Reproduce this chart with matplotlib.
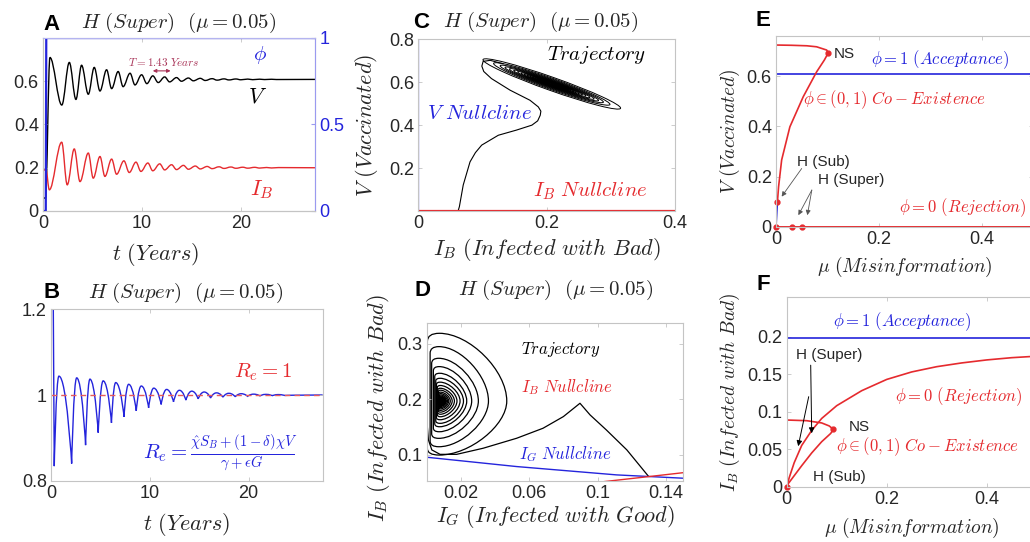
import matplotlib
matplotlib.use("Agg")
import matplotlib.pyplot as plt
from matplotlib.path import Path
from matplotlib.patches import PathPatch, Ellipse
from matplotlib.transforms import Affine2D

plt.rcParams['font.family'] = ['Liberation Sans', 'DejaVu Sans']
plt.rcParams['mathtext.fontset'] = 'cm'

RED = '#e52a2e'
BLUE = '#2424dc'
GREY = '#c4c4c4'
TXT = '#262626'

# ---------------- data ----------------
# A: time series (extrema of the damped oscillation)
A_v_t = [0.0, 0.25, 0.7, 1.9, 2.66, 3.33, 3.9, 4.58, 5.18, 5.76, 6.43, 6.94, 7.6, 8.1, 8.8, 9.3,
         9.97, 10.5, 11.1, 11.65, 12.3, 12.8, 13.5, 14.0, 14.7, 15.2, 15.9, 16.4, 17.1, 17.6,
         18.3, 18.8, 19.5, 20.0, 20.7, 21.2, 21.9, 22.4, 23.1, 23.6, 27.5]
A_v = [0.06, 0.06, 0.71, 0.49, 0.687, 0.516, 0.674, 0.54, 0.664, 0.555, 0.653, 0.566, 0.645, 0.575,
       0.637, 0.583, 0.630, 0.589, 0.625, 0.594, 0.620, 0.597, 0.617, 0.600, 0.615, 0.602, 0.6135,
       0.6035, 0.612, 0.605, 0.611, 0.606, 0.6105, 0.6068, 0.610, 0.6073, 0.6095, 0.6078, 0.6092,
       0.608, 0.6085]
A_ib_t = [0.0, 0.3, 0.64, 1.89, 2.45, 3.16, 3.74, 4.58, 5.08, 5.76, 6.26, 6.94, 7.44, 8.18, 8.72,
          9.4, 9.9, 10.6, 11.1, 11.8, 12.3, 13.0, 13.5, 14.2, 14.7, 15.4, 15.9, 16.6, 17.1, 17.8,
          18.3, 19.0, 19.5, 20.2, 20.7, 21.4, 21.9, 22.6, 23.1, 23.8, 27.5]
A_ib = [0.19, 0.19, 0.098, 0.318, 0.121, 0.287, 0.136, 0.268, 0.152, 0.252, 0.16, 0.24, 0.17, 0.232,
        0.178, 0.226, 0.183, 0.222, 0.186, 0.218, 0.19, 0.214, 0.1915, 0.211, 0.193, 0.208, 0.1945,
        0.206, 0.1958, 0.2045, 0.1968, 0.2035, 0.1975, 0.2025, 0.198, 0.202, 0.1985, 0.2012, 0.199,
        0.2008, 0.2]
A_phi_t = [0.0, 0.28, 0.33, 27.5]
A_phi = [0.0, 0.0, 1.0, 1.0]

# B: effective reproduction number (first value is the off-scale spike)
B_t = [0.22, 0.33, 0.8, 2.09, 2.6, 3.5, 3.94, 4.78, 5.28, 6.12, 6.55, 7.39, 7.86, 8.63, 9.14, 9.88,
       10.4, 11.15, 11.7, 12.4, 13.0, 13.65, 14.25, 14.9, 15.5, 16.15, 16.75, 17.4, 18.0, 18.65,
       19.25, 19.9, 20.5, 21.15, 21.75, 22.4, 23.0, 23.65, 27.5]
B_re = [1.25, 0.834, 1.044, 0.84, 1.04, 0.883, 1.037, 0.912, 1.033, 0.935, 1.029, 0.949, 1.025,
        0.963, 1.021, 0.97, 1.016, 0.978, 1.013, 0.984, 1.011, 0.988, 1.009, 0.991, 1.007, 0.993,
        1.005, 0.995, 1.004, 0.996, 1.003, 0.997, 1.002, 0.998, 1.0015, 0.9985, 1.001, 0.999, 1.0]

# C: phase plane (I_B, V)
C_ib = [0.062, 0.064, 0.070, 0.0806, 0.089, 0.0988, 0.1247, 0.153, 0.177, 0.186, 0.19, 0.191,
        0.187, 0.174, 0.143, 0.114, 0.102, 0.099, 0.101, 0.112, 0.132]
C_v = [0.0, 0.02, 0.121, 0.229, 0.272, 0.307, 0.353, 0.377, 0.40, 0.42, 0.446, 0.465, 0.485,
       0.516, 0.563, 0.617, 0.650, 0.675, 0.697, 0.702, 0.686]
C_focus = (0.208, 0.592)
C_loop_len = [0.680, 0.575, 0.510, 0.462, 0.418, 0.376, 0.338, 0.303, 0.272, 0.243, 0.217, 0.192,
              0.171, 0.149, 0.130, 0.112, 0.093, 0.078, 0.065]
C_loop_wid = [0.062, 0.052, 0.044, 0.038, 0.033, 0.029, 0.025, 0.022, 0.019, 0.017, 0.015, 0.013,
              0.011, 0.010, 0.009, 0.008, 0.007, 0.006, 0.005]

# D: phase plane (I_G, I_B)
D_ig = [0.1295, 0.117, 0.105, 0.0955, 0.0896, 0.0799, 0.068, 0.0526, 0.033, 0.0175, 0.0078,
        0.003, 0.001, 0.0004]
D_ib = [0.062, 0.109, 0.145, 0.172, 0.193, 0.169, 0.148, 0.130, 0.112, 0.101, 0.101, 0.109,
        0.127, 0.15]
D_focus = (0.0082, 0.197)
D_left = [0.0004, 0.0020, 0.0029, 0.0039, 0.0047, 0.0053, 0.0057, 0.0062, 0.0065, 0.0068, 0.0070,
          0.0072, 0.0074, 0.0075, 0.0076, 0.0077]
D_right = [0.0468, 0.0361, 0.0302, 0.0263, 0.0234, 0.0215, 0.0195, 0.0177, 0.0162, 0.0149,
           0.0138, 0.0129, 0.0122, 0.0115, 0.0110, 0.0105]
D_top = [0.319, 0.295, 0.274, 0.259, 0.247, 0.238, 0.231, 0.225, 0.220, 0.2165, 0.213, 0.2104,
         0.208, 0.2062, 0.2047, 0.2033]
D_bot = [0.0997, 0.1147, 0.1298, 0.1417, 0.1507, 0.1568, 0.1633, 0.1687, 0.1732, 0.177, 0.1802,
         0.1829, 0.1851, 0.1871, 0.1887, 0.190]
D_ncg_ig = [0.0, 0.0526, 0.111, 0.15]
D_ncg_ib = [0.0958, 0.079, 0.064, 0.058]
D_ncb_ig = [0.104, 0.130, 0.15]
D_ncb_ib = [0.052, 0.061, 0.068]

# E: bifurcation diagram in V
E_acc_mu = [0.0, 0.5]
E_acc_v = [0.61, 0.61]
E_rej_mu = [0.0, 0.5]
E_rej_v = [0.0, 0.0]
E_coex_mu = [0.0, 0.03, 0.06, 0.079, 0.0986, 0.1018, 0.094, 0.079, 0.053, 0.027, 0.011, 0.005, 0.0027]
E_coex_v = [0.724, 0.723, 0.721, 0.717, 0.704, 0.693, 0.664, 0.617, 0.518, 0.398, 0.266, 0.159, 0.097]
E_low_mu = [0.0027, 0.0]
E_low_v = [0.097, 0.0]
E_pts_mu = [0.1018, 0.0027, 0.032, 0.051, 0.0]
E_pts_v = [0.693, 0.097, 0.0, 0.0, 0.0]

# F: bifurcation diagram in I_B
F_acc_mu = [0.0, 0.5]
F_acc_ib = [0.198, 0.198]
F_rej_mu = [0.0, 0.005, 0.015, 0.03, 0.05, 0.07, 0.1, 0.15, 0.2, 0.25, 0.3, 0.35, 0.4, 0.45, 0.5]
F_rej_ib = [0.0, 0.012, 0.032, 0.055, 0.075, 0.091, 0.108, 0.128, 0.143, 0.153, 0.160, 0.165,
            0.169, 0.172, 0.174]
F_coex_mu = [0.0, 0.04, 0.07, 0.085, 0.0933, 0.088, 0.07, 0.05, 0.03, 0.012, 0.003, 0.0]
F_coex_ib = [0.0889, 0.088, 0.085, 0.081, 0.0765, 0.071, 0.06, 0.045, 0.028, 0.012, 0.004, 0.0]
F_pts_mu = [0.0933, 0.0]
F_pts_ib = [0.0765, 0.0]


# ---------------- helpers ----------------
def fpos(l, r, t, b):
    return [l / 1030, 1 - b / 542, (r - l) / 1030, (b - t) / 542]


def style(ax, xt, xl, yt, yl, fs=13):
    ax.set_xticks(xt, xl)
    ax.set_yticks(yt, yl)
    ax.tick_params(direction='in', length=3, width=0.6, top=True, right=True,
                   labelsize=fs, colors=GREY, labelcolor=TXT, pad=3)
    for s in ax.spines.values():
        s.set_color(GREY)
        s.set_linewidth(0.8)


def smooth_path(xs, ys, a):
    # bezier through the extrema, horizontal tangents; a = handle length at each point
    verts = [(xs[0], ys[0])]
    codes = [Path.MOVETO]
    for i in range(len(xs) - 1):
        dx = xs[i + 1] - xs[i]
        verts += [(xs[i] + a[i] * dx, ys[i]), (xs[i + 1] - a[i + 1] * dx, ys[i + 1]),
                  (xs[i + 1], ys[i + 1])]
        codes += [Path.CURVE4] * 3
    return Path(verts, codes)


def loop_path(L, R, T, B, yc, k=0.45):
    c = 0.15 * (R - L)
    rt = 0.12 * (T - yc)
    rb = 0.12 * (yc - B)
    m = L + c + k * (R - L - c)
    verts = [(L, B + rb), (L, T - rt), (L, T), (L + c, T),
             (m, T), (R, yc + k * (T - yc)), (R, yc),
             (R, yc - k * (yc - B)), (m, B), (L + c, B),
             (L, B), (L, B + rb), (L, B + rb)]
    codes = [Path.MOVETO, Path.LINETO, Path.CURVE3, Path.CURVE3,
             Path.CURVE4, Path.CURVE4, Path.CURVE4, Path.CURVE4, Path.CURVE4, Path.CURVE4,
             Path.CURVE3, Path.CURVE3, Path.CLOSEPOLY]
    return Path(verts, codes)


def xlab(ax, s, x, y, fs):
    ax.set_xlabel(s, fontsize=fs, color=TXT)
    ax.xaxis.set_label_coords(x, y)
    ax.xaxis.label.set_va('center')


def ylab(ax, s, x, y, fs):
    ax.set_ylabel(s, fontsize=fs, color=TXT)
    ax.yaxis.set_label_coords(x, y)
    ax.yaxis.label.set_va('center')


fig = plt.figure(figsize=(10.3, 5.42), dpi=100)

TITLE = r'$H\ (Super)\ \ (\mu = 0.05)$'
TFS = 15


def letter(s, x, y):
    fig.text(x / 1030, 1 - y / 542, s, fontsize=16, fontweight='bold', ha='center', va='center')


def title(x, y):
    fig.text(x / 1030, 1 - y / 542, TITLE, fontsize=TFS, ha='center', va='center', color=TXT)


# ---------------- A ----------------
axA = fig.add_axes(fpos(43, 315, 38, 211))
axA.add_patch(PathPatch(smooth_path(A_v_t, A_v, [0.36] * len(A_v)), fill=False,
                        ec='black', lw=1.0))
axA.add_patch(PathPatch(smooth_path(A_ib_t, A_ib, [0.36] * len(A_ib)), fill=False,
                        ec=RED, lw=1.0))
axA.set_xlim(0, 27.5)
axA.set_ylim(0, 0.8)
style(axA, [0, 10, 20], ['0', '10', '20'], [0, 0.2, 0.4, 0.6], ['0', '0.2', '0.4', '0.6'])
axA.tick_params(right=False)
axA2 = axA.twinx()
axA2.plot(A_phi_t, A_phi, color=BLUE, lw=1.6)
axA2.set_ylim(0, 1)
axA2.set_yticks([0, 0.5, 1], ['0', '0.5', '1'])
axA2.tick_params(direction='in', length=3, labelsize=13, colors='#9a9af0', labelcolor=BLUE, pad=3)
for s in axA2.spines.values():
    s.set_color(GREY)
axA2.spines['right'].set_color('#9a9af0')
axA2.spines['top'].set_color('#b4b4f0')
axA.text(21.9, 0.72, r'$\phi$', color=BLUE, fontsize=15, ha='center', va='center')
axA.text(21.7, 0.526, r'$V$', color='black', fontsize=16, ha='center', va='center')
axA.text(22.1, 0.098, r'$I_B$', color=RED, fontsize=16, ha='center', va='center')
axA.text(12.2, 0.69, r'$T = 1.43\ Years$', color='#a83256', fontsize=8, ha='center', va='center')
axA.annotate('', xy=(11.1, 0.648), xytext=(12.9, 0.648),
             arrowprops=dict(arrowstyle='<|-|>', color='#a83256', lw=0.8,
                             mutation_scale=5, shrinkA=0, shrinkB=0))
xlab(axA, r'$t\ (Years)$', 0.412, -0.254, 16)
letter('A', 52, 24)
title(178.5, 23)

# ---------------- B ----------------
axB = fig.add_axes(fpos(51, 322.7, 309.3, 480.7))
a_b = [0.0] + [0.0 if i % 2 == 1 else 0.6 for i in range(1, len(B_t))]
axB.add_patch(PathPatch(smooth_path(B_t, B_re, a_b), fill=False, ec=BLUE, lw=1.0))
axB.axhline(1.0, color='#e85a5a', lw=1.0, ls=(0, (4, 3)))
axB.set_xlim(0, 27.5)
axB.set_ylim(0.8, 1.2)
style(axB, [0, 10, 20], ['0', '10', '20'], [0.8, 1, 1.2], ['0.8', '1', '1.2'])
axB.text(21.5, 1.052, r'$R_e = 1$', color=RED, fontsize=15, ha='center', va='center')
axB.text(17.1, 0.865, r'$R_e = \frac{\hat{\chi} S_B + (1-\delta)\chi V}{\gamma + \epsilon G}$',
         color=BLUE, fontsize=15, ha='center', va='center')
xlab(axB, r'$t\ (Years)$', 0.5, -0.258, 16)
letter('B', 52, 292)
title(186, 293)

# ---------------- C ----------------
axC = fig.add_axes(fpos(418.3, 675, 39.3, 211))
axC.plot(C_ib, C_v, color='black', lw=0.8)
axC.set_xlim(0, 0.4)
axC.set_ylim(0, 0.8)
kx = (256.7 / 0.4) / (171.7 / 0.8)
trC = Affine2D().scale(1 / kx, 1) + axC.transData
for L, W in zip(C_loop_len, C_loop_wid):
    axC.add_patch(Ellipse((C_focus[0] * kx, C_focus[1]), L, W, angle=-19.5,
                          transform=trC, fill=False, ec='black', lw=0.7))
axC.axvline(0, color=BLUE, lw=1.6)
axC.axhline(0, color=RED, lw=1.6)
style(axC, [0, 0.2, 0.4], ['0', '0.2', '0.4'], [0.2, 0.4, 0.6, 0.8], ['0.2', '0.4', '0.6', '0.8'])
axC.text(0.278, 0.726, r'$Trajectory$', color='black', fontsize=15, ha='center', va='center')
axC.text(0.096, 0.454, r'$V\ Nullcline$', color=BLUE, fontsize=15, ha='center', va='center')
axC.text(0.2675, 0.094, r'$I_B\ Nullcline$', color=RED, fontsize=15, ha='center', va='center')
xlab(axC, r'$I_B\ (Infected\ with\ Bad)$', 0.5, -0.227, 16)
ylab(axC, r'$V\ (Vaccinated)$', -0.201, 0.5, 16)
letter('C', 421, 22)
title(541, 22)

# ---------------- D ----------------
axD = fig.add_axes(fpos(426.7, 683.3, 323.3, 481))
axD.plot(D_ig, D_ib, color='black', lw=0.9)
for L, R, T, B in zip(D_left, D_right, D_top, D_bot):
    axD.add_patch(PathPatch(loop_path(L, R, T, B, D_focus[1]), fill=False, ec='black', lw=0.9))
axD.plot([D_focus[0]], [D_focus[1]], 'o', color='black', ms=6)
axD.plot(D_ncg_ig, D_ncg_ib, color=BLUE, lw=1.0)
axD.plot(D_ncb_ig, D_ncb_ib, color=RED, lw=1.0)
axD.set_xlim(0, 0.15)
axD.set_ylim(0.053, 0.337)
style(axD, [0.02, 0.06, 0.1, 0.14], ['0.02', '0.06', '0.1', '0.14'],
      [0.1, 0.2, 0.3], ['0.1', '0.2', '0.3'])
axD.text(0.0783, 0.289, r'$Trajectory$', color='black', fontsize=12, ha='center', va='center')
axD.text(0.0818, 0.223, r'$I_B\ Nullcline$', color=RED, fontsize=12, ha='center', va='center')
axD.text(0.0808, 0.1013, r'$I_G\ Nullcline$', color=BLUE, fontsize=12, ha='center', va='center')
xlab(axD, r'$I_G\ (Infected\ with\ Good)$', 0.5, -0.226, 16)
ylab(axD, r'$I_B\ (Infected\ with\ Bad)$', -0.189, 0.46, 16)
letter('D', 423, 290)
title(556, 290)

# ---------------- E ----------------
axE = fig.add_axes(fpos(776, 1033, 36, 226.7))
axE.plot(E_acc_mu, E_acc_v, color=BLUE, lw=1.2)
axE.plot(E_low_mu, E_low_v, color=BLUE, lw=1.2)
axE.plot(E_rej_mu, E_rej_v, color=RED, lw=1.4, clip_on=False)
axE.plot(E_coex_mu, E_coex_v, color=RED, lw=1.2)
axE.plot(E_pts_mu, E_pts_v, 'o', color=RED, ms=3.5, clip_on=False)
axE.set_xlim(0, 0.5)
axE.set_ylim(0, 0.76)
style(axE, [0, 0.2, 0.4], ['0', '0.2', '0.4'], [0, 0.2, 0.4, 0.6], ['0', '0.2', '0.4', '0.6'])
axE.text(0.113, 0.69, 'NS', fontsize=11, ha='left', va='center', color=TXT)
axE.text(0.041, 0.258, 'H (Sub)', fontsize=11, ha='left', va='center', color=TXT)
axE.annotate('', xy=(0.011, 0.12), xytext=(0.05, 0.232),
             arrowprops=dict(arrowstyle='-|>', color='#555555', lw=0.6, mutation_scale=7,
                             shrinkA=0, shrinkB=0))
axE.text(0.082, 0.186, 'H (Super)', fontsize=11, ha='left', va='center', color=TXT)
for tip in [(0.0435, 0.046), (0.061, 0.046)]:
    axE.annotate('', xy=tip, xytext=(0.0697, 0.146),
                 arrowprops=dict(arrowstyle='-|>', color='#555555', lw=0.6, mutation_scale=7,
                                 shrinkA=0, shrinkB=0))
axE.text(0.319, 0.667, r'$\phi = 1\ (Acceptance)$', color=BLUE, fontsize=12, ha='center', va='center')
axE.text(0.2315, 0.505, r'$\phi \in (0,1)\ Co-Existence$', color=RED, fontsize=12,
         ha='center', va='center')
axE.text(0.364, 0.077, r'$\phi = 0\ (Rejection)$', color=RED, fontsize=12, ha='center', va='center')
xlab(axE, r'$\mu\ (Misinformation)$', 0.5, -0.211, 14)
ylab(axE, r'$V\ (Vaccinated)$', -0.179, 0.5, 14)
letter('E', 763, 20)

# ---------------- F ----------------
axF = fig.add_axes(fpos(786.7, 1036.7, 297.3, 486.7))
axF.plot(F_acc_mu, F_acc_ib, color=BLUE, lw=1.2)
axF.plot(F_rej_mu, F_rej_ib, color=RED, lw=1.2)
axF.plot(F_coex_mu, F_coex_ib, color=RED, lw=1.2)
axF.plot(F_pts_mu, F_pts_ib, 'o', color=RED, ms=3.5, clip_on=False)
axF.set_xlim(0, 0.5)
axF.set_ylim(0, 0.2525)
style(axF, [0, 0.2, 0.4], ['0', '0.2', '0.4'], [0, 0.05, 0.1, 0.15, 0.2],
      ['0', '0.05', '0.1', '0.15', '0.2'])
axF.text(0.0186, 0.1756, 'H (Super)', fontsize=11, ha='left', va='center', color=TXT)
for tail, tip in [((0.048, 0.162), (0.05, 0.0712)), ((0.044, 0.12), (0.023, 0.054))]:
    axF.annotate('', xy=tip, xytext=tail,
                 arrowprops=dict(arrowstyle='-|>', color='black', lw=0.7, mutation_scale=8,
                                 shrinkA=0, shrinkB=0))
axF.text(0.124, 0.08, 'NS', fontsize=11, ha='left', va='center', color=TXT)
axF.text(0.1047, 0.013, 'H (Sub)', fontsize=11, ha='center', va='center', color=TXT)
axF.text(0.23, 0.22, r'$\phi = 1\ (Acceptance)$', color=BLUE, fontsize=12, ha='center', va='center')
axF.text(0.3447, 0.12, r'$\phi = 0\ (Rejection)$', color=RED, fontsize=12, ha='center', va='center')
axF.text(0.2827, 0.0533, r'$\phi \in (0,1)\ Co-Existence$', color=RED, fontsize=12,
         ha='center', va='center')
xlab(axF, r'$\mu\ (Misinformation)$', 0.5, -0.218, 14)
ylab(axF, r'$I_B\ (Infected\ with\ Bad)$', -0.227, 0.5, 14)
letter('F', 763, 285)

fig.savefig('out.png', dpi=100)
